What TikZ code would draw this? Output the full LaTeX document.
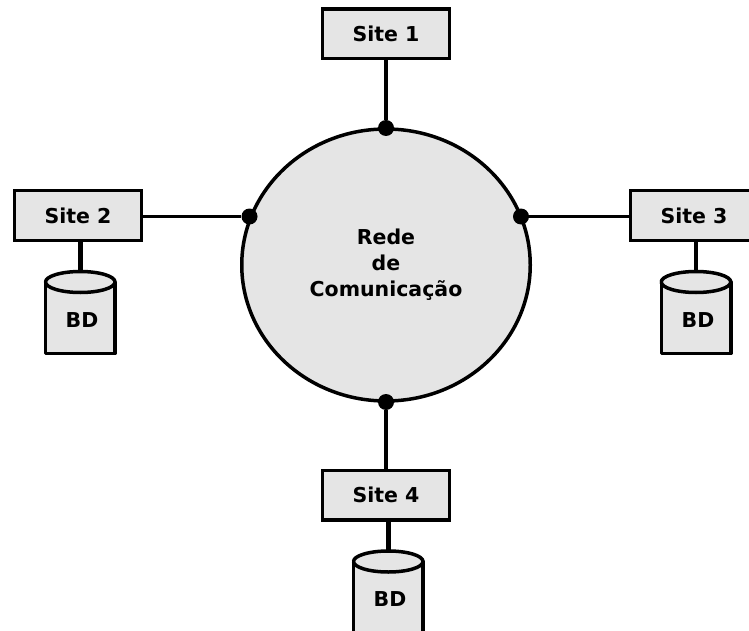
\documentclass[tikz,border=0pt]{standalone}
\usepackage{fontspec}
\setmainfont{DejaVu Sans}
\usetikzlibrary{shapes.geometric}
\definecolor{boxgray}{HTML}{E5E5E5}
\newcommand{\labelfont}{\fontsize{20.5}{26}\selectfont\bfseries}
\tikzset{
  site/.style={draw=black,fill=boxgray,line width=3.5pt,minimum width=127pt,minimum height=49.5pt,inner sep=0pt,font=\labelfont},
  db/.style={rectangle,minimum width=69.5pt,minimum height=82pt,inner sep=0pt,outer sep=0pt},
  dblabel/.style={inner sep=0pt,font=\labelfont},
  cyl/.style={draw=black,fill=boxgray,line width=3.5pt,line join=round},
  dot/.style={circle,fill=black,minimum size=16pt,inner sep=0pt},
  link/.style={line width=3.5pt},
  dblink/.style={line width=4.5pt}
}
\newcommand{\drawcyl}[1]{%
  \path (#1.north west) ++(0,10.5) coordinate (#1a);
  \path (#1.north east) ++(0,10.5) coordinate (#1b);
  \path[cyl] (#1a) -- (#1.south west) -- (#1.south east) -- (#1b) -- cycle;
  \path[cyl] (#1a) arc[start angle=180,end angle=-180,x radius=34.75,y radius=10.5];
}
\begin{document}
\begin{tikzpicture}[x=1pt,y=-1pt]
\useasboundingbox (0,0) rectangle (749,631);
\clip (0,0) rectangle (749,631);
\node[ellipse,draw=black,fill=boxgray,line width=3.5pt,minimum width=288.5pt,minimum height=272pt,inner sep=0pt,align=center,font=\labelfont] (net) at (386,265) {Rede\\de\\Comunicação};
\node[site] (s1) at (386,34) {Site 1};
\node[site] (s2) at (78,215.5) {Site 2};
\node[site] (s3) at (694,215.5) {Site 3};
\node[site] (s4) at (386,495) {Site 4};
\node[db] (d2) at (80.3,312.5) {};
\node[db] (d3) at (696,312.5) {};
\node[db] (d4) at (388.3,592) {};
\draw[dblink] (s2.south -| d2.center) -- (d2.north);
\draw[dblink] (s3.south -| d3.center) -- (d3.north);
\draw[dblink] (s4.south -| d4.center) -- (d4.north);
\drawcyl{d2}
\drawcyl{d3}
\drawcyl{d4}
\node[dblabel] (b2) at (82,320) {BD};
\node[dblabel] (b3) at (698,320) {BD};
\node[dblabel] (b4) at (390,599) {BD};
\node[dot] (p1) at (386,128) {};
\node[dot] (p2) at (249.5,216.5) {};
\node[dot] (p3) at (521,216.5) {};
\node[dot] (p4) at (386,402) {};
\draw[link] (s1.south) -- (p1);
\draw[link] (s2.east |- p2) -- (p2);
\draw[link] (s3.west |- p3) -- (p3);
\draw[link] (s4.north) -- (p4);
\end{tikzpicture}
\end{document}
